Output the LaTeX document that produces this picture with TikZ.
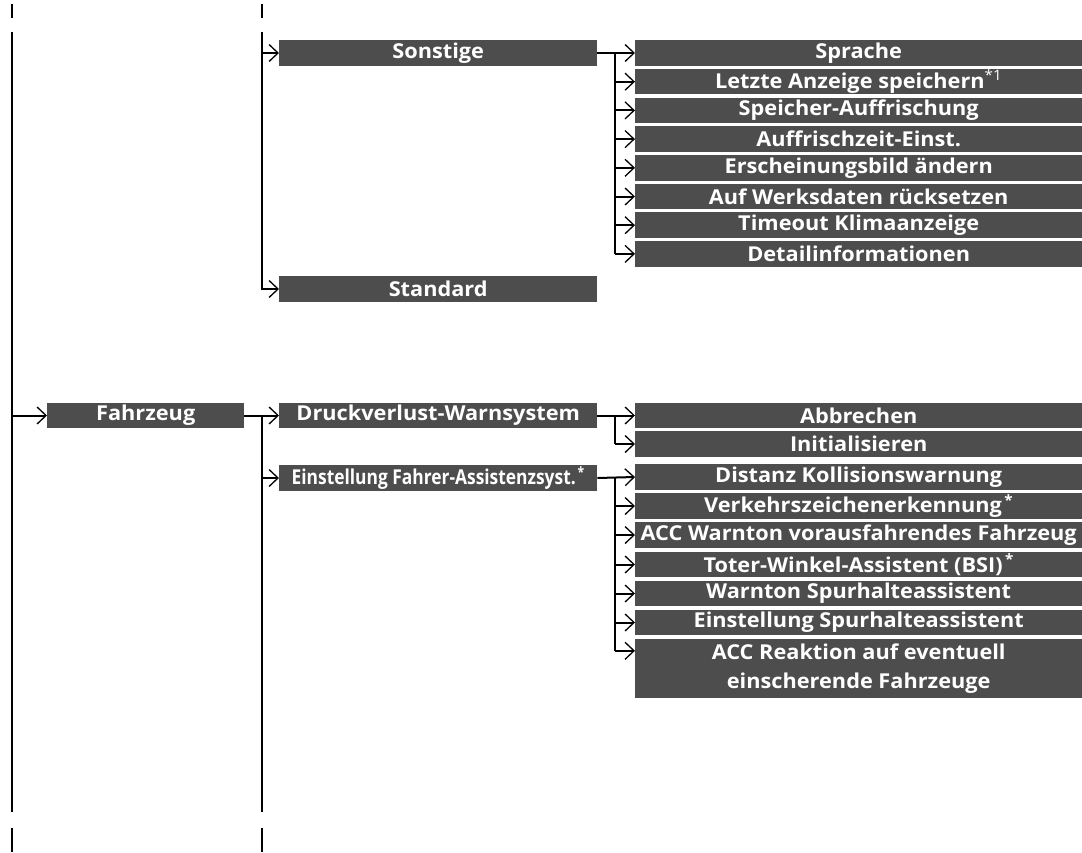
\documentclass[tikz,border=0pt]{standalone}
\usepackage{fontspec}
\setmainfont{Open Sans}[FakeStretch=1.06]
\usepackage{graphicx}
\usetikzlibrary{arrows.meta}
\definecolor{boxgray}{HTML}{4D4D4D}

\begin{document}
\begin{tikzpicture}[x=1pt,y=-1pt]
        \tikzset{
            menubox/.style={fill=boxgray, text=white, inner sep=0pt, anchor=west, minimum height=25.5pt, align=center, font=\bfseries\fontsize{20.5}{28.5}\selectfont},
            lvlone/.style={menubox, minimum width=197pt},
            lvltwo/.style={menubox, minimum width=318pt},
            lvlthree/.style={menubox, minimum width=447pt},
            link/.style={line width=2pt},
            arr/.style={link, -{Straight Barb[length=9pt,width=17pt,line width=1.3pt]}},
            tick/.style={line width=1.6pt}
        }
        \useasboundingbox (0,0) rectangle (1082,852);
        % cut marks
        \draw[tick] (12,4) -- (12,18);
        \draw[tick] (262,4) -- (262,18);
        \draw[tick] (12,828) -- (12,852);
        \draw[tick] (262,828) -- (262,852);
        % trunks
        \coordinate (busL) at (12,32);
        \coordinate (busLend) at (12,812);
        \coordinate (busM) at (262,32);
        \coordinate (busR) at (615,53);
        % level 1
        \node[lvlone] (fahrzeug) at (47,415.5) {Fahrzeug};
        % level 2
        \node[lvltwo] (sonstige) at (279,53) {Sonstige};
        \node[lvltwo] (standard) at (279,289) {Standard};
        \node[lvltwo] (druck) at (279,415.5) {Druckverlust-Warnsystem};
        \node[lvltwo] (fahrer) at (279,478) {\scalebox{0.8}[1]{Einstellung Fahrer-Assistenzsyst.\textsuperscript{\,*}}};
        % level 3
        \node[lvlthree] (sprache) at (635,53) {Sprache};
        \node[lvlthree] (letzte) at (635,81.7) {Letzte Anzeige speichern\textsuperscript{\mdseries *1}};
        \node[lvlthree] (speicher) at (635,110.4) {Speicher-Auffrischung};
        \node[lvlthree] (auffrisch) at (635,139.1) {Auffrischzeit-Einst.};
        \node[lvlthree] (erschein) at (635,167.8) {Erscheinungsbild ändern};
        \node[lvlthree] (werks) at (635,196.5) {Auf Werksdaten rücksetzen};
        \node[lvlthree] (timeout) at (635,225.2) {Timeout Klimaanzeige};
        \node[lvlthree] (detail) at (635,253.9) {Detailinformationen};
        \node[lvlthree] (abbrechen) at (635,415.5) {Abbrechen};
        \node[lvlthree] (init) at (635,444) {Initialisieren};
        \node[lvlthree] (distanz) at (635,477) {Distanz Kollisionswarnung};
        \node[lvlthree] (verkehr) at (635,506) {Verkehrszeichenerkennung\textsuperscript{\,*}};
        \node[lvlthree] (accwarn) at (635,535) {ACC Warnton vorausfahrendes Fahrzeug};
        \node[lvlthree] (toter) at (635,564.5) {Toter-Winkel-Assistent (BSI)\textsuperscript{\,*}};
        \node[lvlthree] (spurwarn) at (635,593.5) {Warnton Spurhalteassistent};
        \node[lvlthree] (spureinst) at (635,622.5) {Einstellung Spurhalteassistent};
        \node[lvlthree, minimum height=59pt] (accreak) at (635,668.5) {ACC Reaktion auf eventuell\\einscherende Fahrzeuge};
        \coordinate (accin) at ([yshift=-12pt]accreak.north west);
        % connectors, left trunk
        \draw[link] (busL) -- (busLend);
        \draw[arr] (busL |- fahrzeug.west) -- (fahrzeug.west);
        % middle trunk
        \draw[arr] (busM) |- (standard.west);
        \draw[arr] (busM |- sonstige.west) -- (sonstige.west);
        \draw[arr] (fahrzeug.east) -- (druck.west);
        \draw[link] (busM |- druck.west) -- (busM |- busLend);
        \draw[arr] (busM |- fahrer.west) -- (fahrer.west);
        % right trunks
        \draw[arr] (sonstige.east) -- (sprache.west);
        \draw[link] (busR |- sprache.west) -- (busR |- detail.west);
        \foreach \n in {letzte,speicher,auffrisch,erschein,werks,timeout,detail}
            \draw[arr] (busR |- \n.west) -- (\n.west);
        \draw[arr] (druck.east) -- (abbrechen.west);
        \draw[link] (busR |- abbrechen.west) -- (busR |- init.west);
        \draw[arr] (busR |- init.west) -- (init.west);
        \draw[arr] (fahrer.east) -- (distanz.west);
        \draw[link] (busR |- distanz.west) -- (busR |- accin);
        \foreach \n in {verkehr,accwarn,toter,spurwarn,spureinst}
            \draw[arr] (busR |- \n.west) -- (\n.west);
        \draw[arr] (busR |- accin) -- (accin);
    \end{tikzpicture}
\end{document}
